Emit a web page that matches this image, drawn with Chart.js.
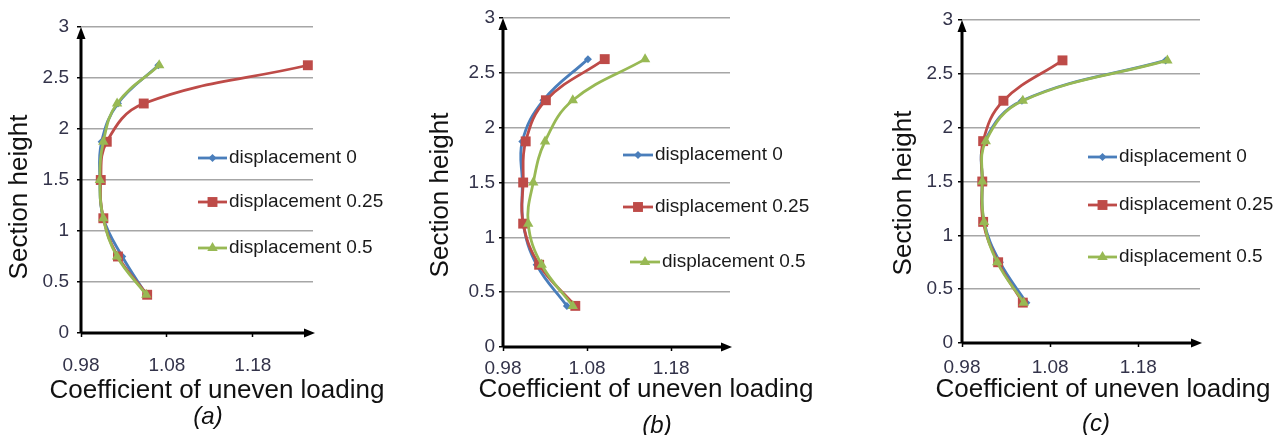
<!DOCTYPE html>
<html>
<head>
<meta charset="utf-8">
<script src="https://cdn.jsdelivr.net/npm/chart.js@4.4.1/dist/chart.umd.min.js"></script>
<style>
  body { margin: 0; background: #fff; }
  #wrap { position: relative; width: 1283px; height: 435px; }
  canvas { position: absolute; top: 0; }
</style>
</head>
<body>
<div id="wrap">
  <canvas id="chartA" width="420" height="435" style="left:0"></canvas>
  <canvas id="chartB" width="440" height="435" style="left:420px"></canvas>
  <canvas id="chartC" width="423" height="435" style="left:860px"></canvas>
</div>
<script>
// section heights (y) shared by every series
const heights = [0.375, 0.75, 1.125, 1.5, 1.875, 2.25, 2.625];
const seriesNames = ["displacement 0", "displacement 0.25", "displacement 0.5"];
const panelNames = ["(a)", "(b)", "(c)"];
const xTicks = [0.98, 1.08, 1.18];
const yTicks = [0, 0.5, 1, 1.5, 2, 2.5, 3];
const xTitle = "Coefficient of uneven loading";
const yTitle = "Section height";

// coefficient of uneven loading, panel (a)
const a_disp0   = [1.056, 1.028, 1.006, 1.002, 1.004, 1.023, 1.070];
const a_disp025 = [1.057, 1.023, 1.006, 1.003, 1.010, 1.053, 1.244];
const a_disp05  = [1.056, 1.022, 1.006, 1.002, 1.006, 1.022, 1.071];
// panel (b)
const b_disp0   = [1.056, 1.020, 1.004, 1.003, 1.003, 1.028, 1.081];
const b_disp025 = [1.066, 1.023, 1.004, 1.004, 1.007, 1.031, 1.101];
const b_disp05  = [1.063, 1.026, 1.010, 1.016, 1.030, 1.063, 1.149];
// panel (c)
const c_disp0   = [1.053, 1.023, 1.005, 1.003, 1.006, 1.048, 1.211];
const c_disp025 = [1.049, 1.021, 1.004, 1.003, 1.004, 1.027, 1.094];
const c_disp05  = [1.050, 1.020, 1.005, 1.003, 1.007, 1.049, 1.213];

const colors = ['#4a7ebb', '#be4b48', '#98b954'];
const shapes = ['rectRot', 'rect', 'triangle'];
const radii = [4, 7, 6];
const FONT = '"Liberation Sans", Arial, sans-serif';

const panels = [
  {id: 'chartA', w: 420, left: 81, top: 27, right: 313, bottom: 333, xPad: 17, yPad: 8,
   yT: [20, 197], xT: [217, 391], cap: [208, 417], legX: [198, 227, 229], legY: [158, 202, 248], indent: [0, 0, 0],
   series: [a_disp0, a_disp025, a_disp05]},
  {id: 'chartB', w: 440, left: 83, top: 18, right: 310, bottom: 347, xPad: 6, yPad: 4,
   yT: [21, 195], xT: [226, 390], cap: [237, 426], legX: [203, 233, 235], legY: [155, 207, 262], indent: [0, 0, 7],
   series: [b_disp0, b_disp025, b_disp05]},
  {id: 'chartC', w: 423, left: 102, top: 20, right: 340, bottom: 343, xPad: 9, yPad: 5,
   yT: [44, 193], xT: [243, 390], cap: [236, 424], legX: [228, 257, 259], legY: [157, 205, 257], indent: [0, 0, 0],
   series: [c_disp0, c_disp025, c_disp05]}
];

function marker(ctx, style, r, x, y, color) {
  ctx.fillStyle = color;
  ctx.beginPath();
  if (style === 'rect') {
    const s = r * Math.SQRT2 / 2;
    ctx.rect(x - s, y - s, 2 * s, 2 * s);
  } else if (style === 'rectRot') {
    ctx.moveTo(x, y - r); ctx.lineTo(x + r, y); ctx.lineTo(x, y + r); ctx.lineTo(x - r, y);
    ctx.closePath();
  } else {
    ctx.moveTo(x, y - r); ctx.lineTo(x + r * 0.87, y + r * 0.5); ctx.lineTo(x - r * 0.87, y + r * 0.5);
    ctx.closePath();
  }
  ctx.fill();
}

const decor = {
  id: 'decor',
  beforeDatasetsDraw(chart) {
    const {ctx, chartArea: ca} = chart;
    ctx.save();
    ctx.strokeStyle = '#000';
    ctx.fillStyle = '#000';
    ctx.lineWidth = 3;
    ctx.beginPath();
    ctx.moveTo(ca.left, ca.bottom);
    ctx.lineTo(ca.left, ca.top + 6);
    ctx.moveTo(ca.left, ca.bottom);
    ctx.lineTo(ca.right - 6, ca.bottom);
    ctx.stroke();
    ctx.beginPath();
    ctx.moveTo(ca.left, ca.top);
    ctx.lineTo(ca.left + 4.5, ca.top + 12);
    ctx.lineTo(ca.left - 4.5, ca.top + 12);
    ctx.closePath();
    ctx.fill();
    ctx.beginPath();
    ctx.moveTo(ca.right + 2, ca.bottom);
    ctx.lineTo(ca.right - 9, ca.bottom - 4.5);
    ctx.lineTo(ca.right - 9, ca.bottom + 4.5);
    ctx.closePath();
    ctx.fill();
    ctx.restore();
  },
  afterDraw(chart) {
    const p = chart.options.plugins.decor;
    const ctx = chart.ctx;
    ctx.save();
    // legend
    ctx.font = '19px ' + FONT;
    ctx.textBaseline = 'middle';
    ctx.textAlign = 'left';
    seriesNames.forEach((name, i) => {
      const y = p.legY[i], d = p.indent[i];
      ctx.strokeStyle = colors[i];
      ctx.lineWidth = 2.8;
      ctx.beginPath();
      ctx.moveTo(p.legX[0] + d, y);
      ctx.lineTo(p.legX[1] + d, y);
      ctx.stroke();
      marker(ctx, shapes[i], radii[i], (p.legX[0] + p.legX[1]) / 2 + d, y, colors[i]);
      ctx.fillStyle = '#1a1a1a';
      ctx.fillText(name, p.legX[2] + d, y);
    });
    // titles
    ctx.fillStyle = '#111';
    ctx.textAlign = 'center';
    ctx.font = '26px ' + FONT;
    ctx.fillText(xTitle, p.xT[0], p.xT[1]);
    ctx.font = 'italic 24px ' + FONT;
    ctx.fillText(p.caption, p.cap[0], p.cap[1]);
    ctx.translate(p.yT[0], p.yT[1]);
    ctx.rotate(-Math.PI / 2);
    ctx.font = '26px ' + FONT;
    ctx.fillText(yTitle, 0, 0);
    ctx.restore();
  }
};

panels.forEach((P, k) => {
  const order = [2, 1, 0];
  const datasets = P.series.map((vals, i) => ({
    label: seriesNames[i],
    data: heights.map((h, j) => ({x: vals[j], y: h})),
    showLine: true,
    tension: 0.4,
    borderColor: colors[i],
    backgroundColor: colors[i],
    borderWidth: 2.8,
    pointStyle: shapes[i],
    pointRadius: radii[i],
    pointBorderWidth: 0,
    order: order[i],
    clip: false
  }));

  new Chart(document.getElementById(P.id), {
    type: 'scatter',
    data: {datasets},
    options: {
      responsive: false,
      animation: false,
      events: [],
      layout: {padding: {left: 0, top: P.top, right: P.w - P.right, bottom: 0}},
      plugins: {
        legend: {display: false},
        tooltip: {enabled: false},
        decor: Object.assign({caption: panelNames[k]}, P)
      },
      scales: {
        x: {
          type: 'linear',
          min: 0.98,
          max: 1.25,
          afterBuildTicks: s => { s.ticks = xTicks.map(v => ({value: v})); },
          afterFit: s => { s.height = 435 - P.bottom; },
          border: {display: false},
          grid: {drawOnChartArea: false, drawTicks: true, tickLength: 4, tickColor: '#000', tickWidth: 1.5},
          ticks: {
            autoSkip: false, maxRotation: 0, padding: P.xPad,
            color: '#33334a', font: {family: FONT, size: 19},
            callback: v => v.toFixed(2)
          }
        },
        y: {
          min: 0,
          max: 3,
          afterBuildTicks: s => { s.ticks = yTicks.map(v => ({value: v})); },
          afterFit: s => { s.width = P.left; },
          border: {display: false},
          grid: {color: '#a6a6a6', lineWidth: 1.5, drawTicks: true, tickLength: 4, tickColor: '#000', tickWidth: 1.5},
          ticks: {
            padding: P.yPad,
            color: '#33334a', font: {family: FONT, size: 19},
            callback: v => String(v)
          }
        }
      }
    },
    plugins: [decor]
  });
});
</script>
</body>
</html>
